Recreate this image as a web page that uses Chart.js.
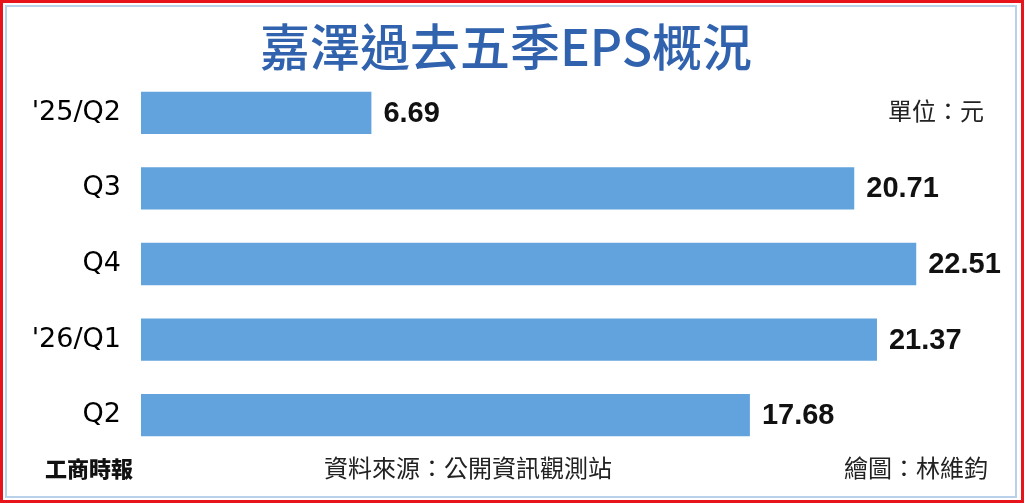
<!DOCTYPE html>
<html>
<head>
<meta charset="utf-8">
<script src="https://cdn.jsdelivr.net/npm/chart.js@4"></script>
<style>
  html, body { margin: 0; padding: 0; background: #fff; }
  #frame {
    position: absolute; left: 0; top: 0;
    width: 1024px; height: 503px; box-sizing: border-box;
    border: 3px solid #e8141b;
  }
  #inner {
    position: absolute; left: 2px; top: 2px; right: 4px; bottom: 2px;
    border: 2px solid #b9d2ea;
  }
  #wrap { position: absolute; left: 0; top: 0; width: 1024px; height: 503px; }
</style>
</head>
<body>
<div id="frame"><div id="inner"></div></div>
<div id="wrap"><canvas id="epsChart"></canvas></div>
<script>
// 嘉澤 EPS, 單位：元
const quarters = ["'25/Q2", "Q3", "Q4", "'26/Q1", "Q2"]
const eps = [6.69, 20.71, 22.51, 21.37, 17.68]

const titleText = "嘉澤過去五季EPS概況"
const unitText = "單位：元"
const sourceText = "資料來源：公開資訊觀測站"
const paperText = "工商時報"
const artistText = "繪圖：林維鈞"

const cjk = "'Noto Sans CJK TC', 'Noto Sans CJK SC', sans-serif"

// value labels at the end of each bar
const valueLabels = {
    id: 'valueLabels',
    afterDatasetsDraw(chart) {
        let ctx = chart.ctx
        let meta = chart.getDatasetMeta(0)
        ctx.save()
        ctx.font = "bold 29px 'Liberation Sans', Arial, sans-serif"
        ctx.fillStyle = '#111'
        ctx.textAlign = 'left'
        ctx.textBaseline = 'middle'
        meta.data.forEach(function(bar, i) {
            ctx.fillText(eps[i].toFixed(2), bar.x + 12, bar.y + 1)
        })
        ctx.restore()
    }
}

// title, unit and footer texts
const frameTexts = {
    id: 'frameTexts',
    afterDraw(chart) {
        let ctx = chart.ctx
        ctx.save()
        ctx.textBaseline = 'middle'

        ctx.font = "500 50px " + cjk
        ctx.fillStyle = '#3162ae'
        ctx.textAlign = 'center'
        ctx.fillText(titleText, 506, 47)

        ctx.font = "24px " + cjk
        ctx.fillStyle = '#222'
        ctx.textAlign = 'right'
        ctx.fillText(unitText, 984, 111)

        ctx.textAlign = 'center'
        ctx.fillText(sourceText, 468, 468)

        ctx.textAlign = 'right'
        ctx.fillText(artistText, 988, 468)

        ctx.font = "900 22px " + cjk
        ctx.fillStyle = '#111'
        ctx.textAlign = 'left'
        ctx.fillText(paperText, 45, 469)
        ctx.restore()
    }
}

let epsChart = new Chart(document.getElementById('epsChart'), {
    type: 'bar',
    data: {
        labels: quarters,
        datasets: [{
            data: eps,
            backgroundColor: '#62a3de',
            borderWidth: 0,
            barPercentage: 0.56,
            categoryPercentage: 1
        }]
    },
    options: {
        indexAxis: 'y',
        responsive: true,
        maintainAspectRatio: false,
        animation: false,
        layout: {
            padding: { top: 75, bottom: 50, left: 0, right: 22 }
        },
        scales: {
            x: {
                display: false,
                min: 0,
                max: 25
            },
            y: {
                grid: { display: false },
                border: { display: false },
                ticks: {
                    color: '#000',
                    padding: 12,
                    font: { family: "'DejaVu Sans', sans-serif", size: 27 }
                },
                afterFit(scale) {
                    scale.width = 141
                }
            }
        },
        plugins: {
            legend: { display: false },
            title: { display: false },
            tooltip: { enabled: false }
        }
    },
    plugins: [valueLabels, frameTexts]
})
</script>
</body>
</html>
